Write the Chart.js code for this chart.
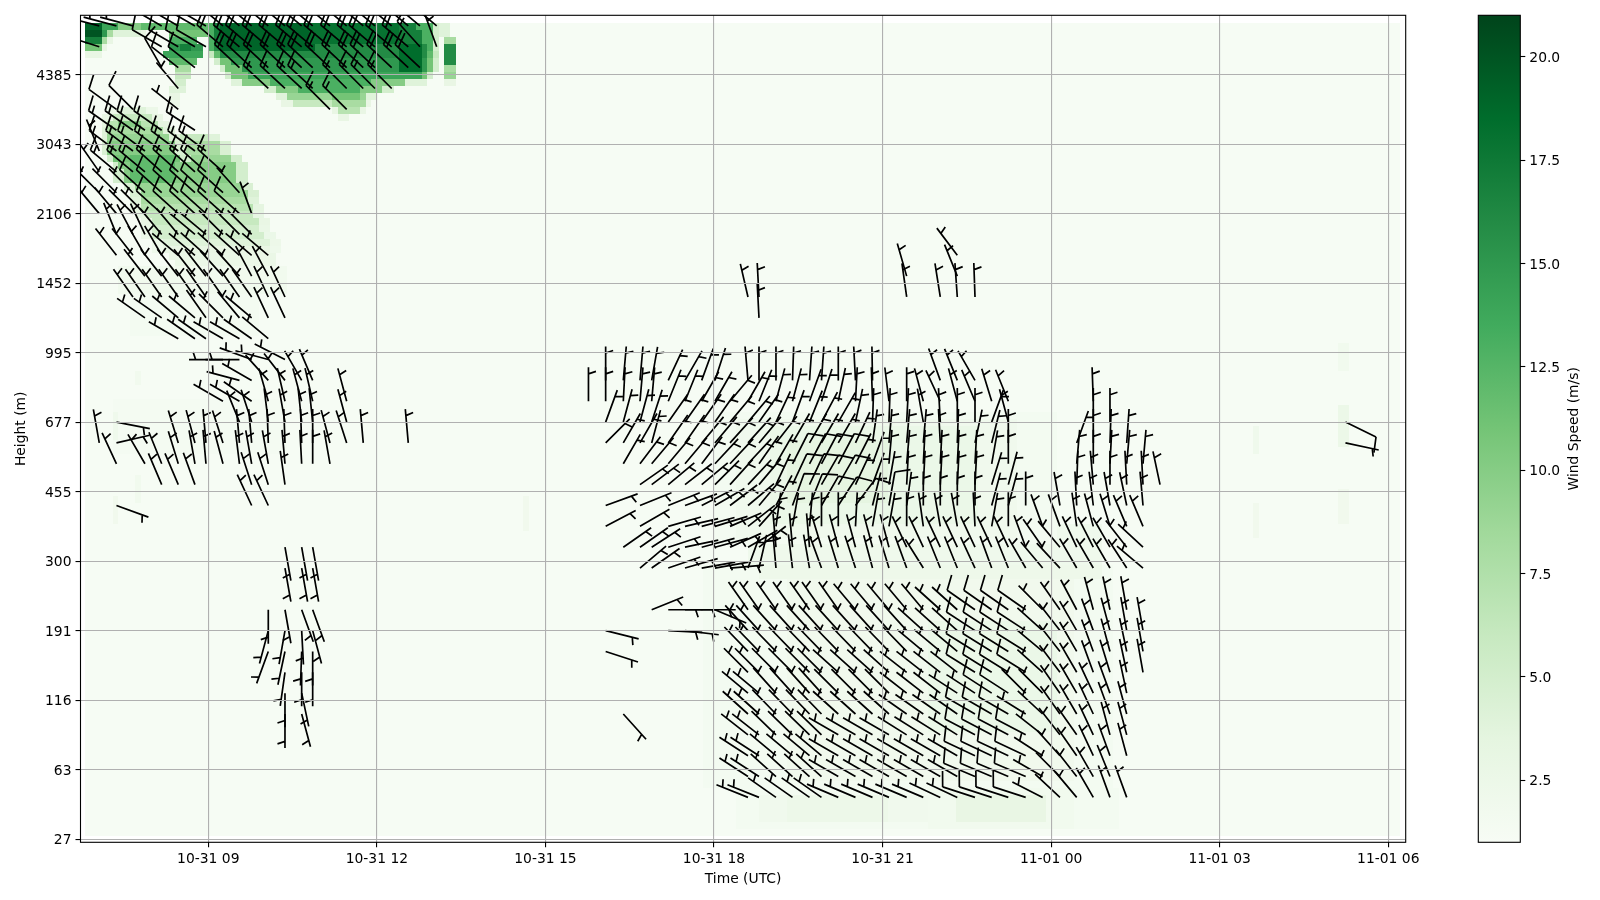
<!DOCTYPE html>
<html>
<head>
<meta charset="utf-8">
<title>Wind profile</title>
<script src="https://cdn.jsdelivr.net/npm/chart.js@4/dist/chart.umd.js"></script>
<style>
  body { margin: 0; background: #fff; }
  #main { position: absolute; left: 0; top: 0; }
  #bar { position: absolute; left: 1400px; top: 0; }
</style>
</head>
<body>
<canvas id="main" width="1600" height="900"></canvas>
<canvas id="bar" width="200" height="900"></canvas>
<script>
// tick labels
let timeTicks = [9, 12, 15, 18, 21, 24, 27, 30];
let timeLabels = ["10-31 09", "10-31 12", "10-31 15", "10-31 18", "10-31 21", "11-01 00", "11-01 03", "11-01 06"];
let heightLabels = [27, 63, 116, 191, 300, 455, 677, 995, 1452, 2106, 3043, 4385];
let speedTicks = [2.5, 5, 7.5, 10, 12.5, 15, 17.5, 20];
let greens = ["#f7fcf5", "#e5f5e0", "#c7e9c0", "#a1d99b", "#74c476", "#41ab5d", "#238b45", "#006d2c", "#00441b"];

// hours since 10-31 00 of the columns that carry barbs
let barbTimes = [6.761, 7.06, 7.366, 7.66, 7.873, 8.171, 8.466, 8.763, 8.959, 9.262, 9.555, 9.772, 10.068, 10.365, 10.662, 10.858,
  11.166, 11.463, 11.758, 11.967, 12.264, 12.559, 12.767, 13.065, 15.766, 16.072, 16.386, 16.683, 16.891, 17.186, 17.484, 17.781,
  18.017, 18.285, 18.605, 18.801, 19.103, 19.397, 19.7, 19.913, 20.212, 20.518, 20.821, 21.114, 21.429, 21.725, 22.027, 22.33,
  22.645, 22.942, 23.238, 23.547, 23.849, 24.157, 24.455, 24.75, 25.047, 25.345, 25.635, 25.938, 29.238];

// barbs: level, first column, last column, direction (deg), speed (m/s)
let barbRuns = [
  [6,34,35,292,5],[6,36,39,305,5],[6,40,45,293,5],[6,46,47,295,5],[6,48,51,288,10],[6,52,52,297,5],[6,53,53,313,5],[6,54,54,320,5],[6,55,55,330,5],[6,56,57,340,5],
  [9,34,35,303,5],[9,36,39,312,5],[9,40,47,300,5],[9,48,51,293,10],[9,52,52,300,5],[9,53,53,315,5],[9,54,54,322,5],[9,55,55,330,5],[9,56,56,338,5],
  [12,34,35,303,5],[12,36,39,310,5],[12,40,47,300,5],[12,48,51,295,10],[12,52,52,303,5],[12,53,53,318,5],[12,54,54,325,5],[12,55,55,335,5],[12,56,56,340,5],[12,57,57,345,5],
  [15,34,35,308,5],[15,36,39,314,5],[15,40,43,300,5],[15,44,47,302,5],[15,48,51,298,10],[15,52,52,308,5],[15,53,53,322,5],[15,54,54,325,5],[15,55,55,335,5],[15,56,57,345,5],
  [18,34,35,312,5],[18,36,39,316,5],[18,40,43,312,5],[18,44,47,305,5],[18,48,50,300,10],[18,51,51,302,5],[18,52,52,313,5],[18,53,53,325,5],[18,54,54,330,5],[18,55,55,335,5],[18,56,56,340,5],[18,57,57,345,5],
  [21,34,35,310,5],[21,36,39,318,5],[21,40,43,315,5],[21,44,46,308,5],[21,47,48,303,5],[21,49,50,303,10],[21,51,52,315,5],[21,53,53,325,5],[21,54,54,330,5],[21,55,55,335,5],[21,56,56,340,5],[21,57,57,348,5],
  [24,34,39,315,5],[24,40,43,312,5],[24,44,47,308,5],[24,48,51,302,10],[24,52,52,312,5],[24,53,53,323,5],[24,54,54,330,5],[24,55,55,340,5],[24,56,56,343,5],[24,57,57,348,5],[24,58,58,350,5],
  [27,34,39,316,5],[27,40,44,316,5],[27,45,47,310,5],[27,48,51,302,10],[27,52,52,310,5],[27,53,53,322,5],[27,54,54,330,5],[27,55,55,340,5],[27,56,56,345,5],[27,57,57,348,5],[27,58,58,350,5],[27,25,25,108,5],
  [30,34,39,318,5],[30,40,44,318,5],[30,45,47,312,5],[30,48,51,303,10],[30,52,52,312,5],[30,53,53,322,5],[30,54,54,330,5],[30,55,55,340,5],[30,56,56,345,5],[30,57,58,350,5],[30,25,25,104,5],[30,29,29,93,5],[30,30,30,97,5],
  [33,34,40,325,5],[33,41,45,320,5],[33,46,47,312,5],[33,48,51,305,10],[33,52,52,315,5],[33,53,53,325,5],[33,54,54,332,5],[33,55,55,345,5],[33,56,56,348,5],[33,57,57,350,5],[33,28,28,68,5],[33,29,31,90,5],[33,32,32,113,5],
  [18,26,26,138,5],
  [39,27,27,50,5],[39,28,28,55,5],[39,29,29,71,5],[39,30,30,74,5],[39,31,32,80,5],[39,33,33,85,5],[39,34,34,20,5],[39,35,35,13,5],[39,36,36,355,5],[39,37,37,353,5],[39,38,38,350,5],[39,39,39,340,5],[39,40,40,343,5],[39,41,41,342,5],[39,42,42,345,5],[39,43,43,343,5],[39,44,44,340,5],[39,45,45,328,5],[39,46,47,338,5],[39,48,48,335,5],[39,49,49,340,5],[39,50,50,338,5],[39,51,51,330,5],[39,52,52,320,5],[39,53,53,317,5],[39,54,56,330,5],[39,57,57,327,5],[39,58,58,310,5],
  [42,26,26,55,5],[42,27,27,55,5],[42,28,28,57,5],[42,29,29,72,5],[42,30,30,78,5],[42,31,32,75,5],[42,33,33,66,5],[42,34,34,60,5],[42,35,35,52,5],[42,36,37,355,5],[42,38,38,355,5],[42,39,39,343,5],[42,40,43,345,5],[42,44,50,335,5],[42,51,51,340,5],[42,52,52,325,5],[42,53,53,320,5],[42,54,54,335,5],[42,55,55,333,5],[42,56,56,330,5],[42,57,57,322,5],[42,58,58,313,5],
  [45,25,25,62,5],[45,27,27,60,5],[45,29,29,74,5],[45,30,30,77,5],[45,31,31,75,5],[45,32,32,73,5],[45,33,33,67,5],[45,34,34,52,5],[45,35,35,42,5],[45,36,36,8,5],[45,37,37,10,5],[45,38,38,5,5],[45,39,40,0,5],[45,41,41,3,5],[45,42,43,10,5],[45,44,44,0,5],[45,45,45,352,5],[45,46,47,350,5],[45,48,48,357,5],[45,49,49,10,5],[45,50,50,0,5],[45,52,53,340,5],[45,54,54,352,5],[45,55,55,345,5],[45,56,56,343,5],[45,57,58,337,5],
  [48,25,25,70,5],[48,27,27,68,5],[48,29,29,68,5],[48,30,30,70,5],[48,31,31,63,5],[48,32,32,60,5],[48,33,33,53,5],[48,34,34,50,5],[48,35,35,40,5],[48,36,36,28,5],[48,37,37,20,10],[48,38,38,22,10],[48,39,39,30,10],[48,40,40,33,10],[48,41,41,37,10],[48,42,42,14,5],[48,43,43,10,10],[48,44,44,8,5],[48,45,48,0,5],[48,49,50,15,5],[48,51,51,0,5],[48,53,53,350,5],[48,54,54,357,5],[48,55,55,353,5],[48,56,56,350,5],[48,57,57,348,5],[48,58,58,355,5],
  [51,27,27,55,5],[51,28,28,53,5],[51,29,29,50,5],[51,30,30,52,5],[51,31,31,50,5],[51,32,32,45,5],[51,33,33,42,5],[51,34,34,43,5],[51,35,35,40,5],[51,36,36,25,5],[51,37,38,25,10],[51,39,40,30,10],[51,41,41,25,5],[51,42,42,20,5],[51,43,43,10,5],[51,44,46,3,5],[51,47,48,3,5],[51,49,49,17,5],[51,50,50,15,5],[51,54,54,2,5],[51,55,55,355,5],[51,56,56,0,5],[51,57,58,357,5],[51,59,59,348,5],
  [54,26,26,30,5],[54,27,27,37,5],[54,28,29,40,5],[54,30,30,40,5],[54,31,31,37,5],[54,32,34,43,5],[54,35,35,35,5],[54,36,36,30,5],[54,37,37,27,10],[54,38,40,28,10],[54,41,41,27,5],[54,42,42,20,5],[54,43,44,5,5],[54,45,47,3,5],[54,48,48,3,5],[54,49,49,10,5],[54,50,50,0,5],[54,54,54,5,5],[54,55,55,0,5],[54,56,56,3,5],[54,57,58,5,5],
  [57,25,25,45,5],[57,26,26,30,5],[57,27,27,30,5],[57,28,28,15,5],[57,29,30,35,5],[57,31,31,40,5],[57,32,32,40,5],[57,33,34,42,5],[57,35,35,40,5],[57,36,36,38,5],[57,37,40,30,5],[57,41,41,25,5],[57,42,42,8,5],[57,43,45,5,5],[57,46,46,357,5],[57,47,47,2,5],[57,48,48,12,5],[57,49,49,14,5],[57,50,50,0,5],[57,54,54,20,5],[57,55,55,0,5],[57,56,56,2,5],[57,57,57,4,5],
  [60,25,25,20,5],[60,26,27,15,5],[60,28,28,18,5],[60,29,31,35,5],[60,32,32,35,5],[60,33,34,40,5],[60,35,35,35,5],[60,36,36,25,5],[60,37,37,20,5],[60,38,38,22,5],[60,39,39,28,5],[60,40,40,30,5],[60,41,41,12,5],[60,42,43,2,5],[60,44,44,3,5],[60,45,45,350,5],[60,46,46,357,5],[60,47,48,0,5],[60,49,49,20,5],[60,50,50,345,5],[60,55,56,0,5],
  [63,24,24,0,5],[63,25,25,0,5],[63,26,26,3,5],[63,27,28,5,5],[63,29,30,22,5],[63,31,32,30,5],[63,33,33,40,5],[63,34,34,30,5],[63,35,35,22,5],[63,36,37,15,5],[63,38,38,20,5],[63,39,39,18,5],[63,40,40,12,5],[63,41,41,3,5],[63,42,42,358,5],[63,43,43,353,5],[63,44,44,0,5],[63,45,45,345,5],[63,46,46,335,5],[63,47,47,345,5],[63,48,48,337,5],[63,49,49,343,5],[63,50,50,338,5],[63,55,55,358,5],
  [66,25,25,0,5],[66,26,27,5,5],[66,28,28,10,5],[66,29,29,25,5],[66,30,30,30,5],[66,31,31,20,5],[66,32,32,18,5],[66,34,34,355,5],[66,35,36,0,5],[66,37,37,2,5],[66,38,39,4,5],[66,40,40,0,5],[66,41,41,357,5],[66,42,42,359,5],[66,46,46,340,5],[66,47,47,338,5],[66,48,48,330,5],
  [18,13,13,180,5],[18,14,14,165,5],[21,13,13,180,5],[21,14,14,168,5],[24,13,13,188,5],[24,14,15,180,5],[27,12,12,200,5],[27,13,13,192,5],[27,14,14,182,5],[27,15,15,180,5],
  [30,12,12,195,5],[30,13,13,190,5],[30,14,14,177,5],[30,15,15,165,5],[33,12,12,180,5],[33,13,13,170,5],[33,14,15,160,5],[39,13,15,170,5],[42,13,15,170,5],
  [48,2,2,110,5],[48,11,12,335,5],
  [51,5,6,337,5],[51,7,7,340,5],[51,11,12,342,5],[51,13,13,352,5],
  [54,2,2,335,5],[54,4,4,330,5],[54,5,5,338,5],[54,6,6,343,5],[54,7,7,350,5],[54,8,8,355,5],[54,9,9,345,5],[54,10,10,353,5],[54,11,12,350,5],[54,13,13,355,5],[54,14,14,357,5],[54,15,15,0,5],[54,16,16,350,5],
  [57,1,1,350,5],[57,2,2,77,5],[57,6,6,343,5],[57,7,7,345,5],[57,8,8,355,5],[57,9,9,342,5],[57,10,11,355,5],[57,12,14,358,5],[57,15,15,0,5],[57,16,16,345,5],[57,17,17,342,5],[57,18,18,355,5],[57,21,21,355,5],
  [60,2,2,101,5],[60,10,10,338,5],[60,11,11,342,5],[60,12,12,353,5],[60,13,13,350,5],[60,14,15,354,5],[60,17,17,345,5],
  [63,9,10,300,5],[63,11,11,305,5],[63,12,12,344,5],[63,13,13,347,5],[63,14,14,345,5],[63,15,15,347,5],[63,17,17,345,5],
  [66,10,10,285,5],[66,11,11,300,5],[66,12,12,318,5],[66,13,13,322,5],[66,14,14,330,5],[66,15,15,337,5],
  [69,9,10,270,5],[69,11,11,290,5],[69,12,12,285,5],[69,13,13,297,5],
  [72,6,6,300,5],[72,7,8,305,5],[72,9,10,300,5],[72,11,11,305,5],[72,12,12,310,5],
  [75,4,5,305,5],[75,6,7,310,5],[75,8,8,325,5],[75,9,9,315,5],[75,10,10,320,5],[75,11,11,310,5],[75,12,13,335,5],[75,35,35,357,5],
  [78,3,11,325,5],[78,12,13,335,5],[78,34,34,347,5],[78,35,35,357,5],[78,44,44,352,5],[78,46,46,351,5],[78,47,47,356,5],[78,48,48,358,5],
  [81,4,8,322,5],[81,9,10,318,5],[81,11,12,332,5],[81,44,44,344,5],[81,47,47,338,5],[84,47,47,323,5],
  [84,2,3,322,5],[84,4,5,330,5],[84,6,7,310,5],[84,8,10,312,5],[84,11,12,310,5],
  [87,2,2,338,5],[87,3,3,332,5],[87,4,4,335,5],[87,5,6,320,5],[87,7,8,310,5],[87,9,11,315,5],
  [90,1,2,320,5],[90,3,4,315,5],[90,5,10,312,10],[90,11,11,340,5],
  [93,0,3,315,5],[93,4,9,312,10],[93,10,10,318,5],
  [96,0,1,325,5],[96,2,4,310,15],[96,5,9,312,15],
  [99,1,1,338,5],[99,2,8,307,15],
  [102,2,5,305,15],[102,7,7,303,15],
  [105,2,2,306,10],[105,3,3,315,10],[105,6,6,308,5],[105,16,17,315,15],
  [108,6,6,320,5],[108,12,15,313,15],[108,17,20,315,15],
  [111,5,5,330,10],[111,6,7,308,10],[111,10,22,313,20],
  [114,1,1,288,15],[114,5,8,300,10],[114,9,21,310,20],[114,22,22,318,15],[114,23,23,340,5],
  [117,1,1,285,10],[117,2,3,285,5],[117,5,8,300,15],[117,9,23,310,20],
  [60,60,60,116,10],[57,60,60,102,5]
];

// speed field painted as blocks: first row, last row, first col, last col, m/s
let heatStartHour = 6.8;
let heatStepHours = 0.1;
let heatSpans = [
  [0,116,0,233,1.15],
  [55,62,5,35,1.35],[72,77,8,30,1.5],[78,81,6,35,1.8],
  [1,6,116,183,1.5],[2,5,120,150,2.0],[2,5,125,142,2.4],[1,6,150,175,1.8],[2,5,155,170,3.0],
  [7,38,110,182,1.5],[8,37,125,175,1.9],[15,30,150,172,2.6],[37,38,120,180,2.3],
  [39,44,118,180,2.1],[42,60,112,172,1.5],[43,59,116,165,2],[45,58,122,158,2.6],[48,56,125,142,3.4],
  [67,70,223,224,1.8],[56,61,223,224,2.5],[45,49,223,224,1.9],[55,58,208,208,2.1],[43,47,208,208,1.9],[44,48,78,78,1.9],[65,66,9,9,1.8],[48,51,9,9,1.8],[57,60,5,5,2.1],[45,48,5,5,1.9],
  [104,104,4,12,2.5],[103,103,3,13,3],[102,102,3,14,3.5],[101,101,3,15,4],[100,100,3,23,4],[98,99,3,25,4.5],[97,97,4,27,5],[94,96,5,28,5],[93,93,7,29,4.5],[92,92,8,30,4.5],[91,91,8,30,4],[90,90,8,31,3.5],[89,89,9,31,3.2],[88,88,10,32,3],[87,87,10,32,2.8],[86,86,10,33,2.6],[85,85,12,34,2.4],[84,84,12,34,2.2],
  [104,104,6,10,4],[103,103,5,11,6],[102,102,4,12,7],[102,102,6,9,10],[101,101,4,13,8],[100,100,4,14,9],[100,100,17,21,6],[98,99,4,15,10],[98,99,18,23,8],
  [97,97,5,16,11],[97,97,19,25,9],[96,96,6,26,10],[94,95,7,26,10],[94,97,8,15,12],[93,93,9,27,9],[92,92,10,28,9],[91,91,10,28,8],[90,90,10,29,7],[89,89,11,29,6],[88,88,12,30,6],
  [87,87,12,30,5],[86,86,12,31,5],[85,85,14,32,4],[84,84,14,32,3],[83,83,15,33,2.8],[82,82,16,33,2.5],
  [116,116,22,63,5],[116,116,22,61,13],[116,116,23,58,17],
  [114,115,22,62,5],[114,115,22,61,13],[114,115,23,59,17],
  [113,113,22,62,5],[113,113,22,61,13],[113,113,23,60,16],
  [112,112,22,62,6],[112,112,23,61,12],[112,112,24,60,16],
  [111,111,23,62,5],[111,111,24,61,11],[111,111,26,60,15],
  [110,110,24,62,5],[110,110,25,61,11],[110,110,28,60,15],
  [109,109,25,61,5],[109,109,26,60,11],[109,109,29,59,14],
  [108,108,26,60,4],[108,108,28,56,10],[108,108,33,50,13],
  [107,107,32,54,5],[107,107,34,52,10],[107,107,38,48,13],
  [106,106,34,51,4],[106,106,36,49,9],[106,106,44,48,11],
  [105,105,35,50,3],[105,105,37,49,6],[105,105,44,49,8],
  [104,104,44,49,3],[104,104,45,48,7],[103,103,45,46,3],
  [113,116,24,40,19],[114,116,40,55,18],[110,113,56,59,18.5],
  [115,116,63,64,4],[114,114,64,65,8],[111,113,64,65,16],[110,110,64,65,8],[109,109,64,65,9],[108,108,64,65,3],
  [116,116,0,2,19],[116,116,3,5,14],[116,116,6,9,10],[116,116,10,21,12],
  [115,115,0,2,20],[115,115,3,3,15],[115,115,4,4,8],[115,115,5,9,4],[115,115,10,10,3],
  [114,114,0,2,17],[114,114,3,3,8],[114,114,4,4,3],[113,113,0,2,11],[113,113,3,3,3],[112,112,0,2,3],
  [115,115,15,21,11],[114,114,15,19,13],[113,113,15,20,15],[113,113,17,18,17],[112,112,14,20,14],[111,111,15,19,12],[110,110,16,18,8],[109,109,16,18,6],[108,108,16,17,5],[107,107,15,17,4],[106,106,15,16,3],[105,105,15,16,2.5]
];

let font = { family: "'DejaVu Sans'", size: 13.89 };
let shaft = 34;
let featherHeight = 15;
let featherLean = 5;
let featherGap = 4.4;

let hexToRgb = (hex) => [1, 3, 5].map((i) => parseInt(hex.slice(i, i + 2), 16));
let speedColor = (v) => {
  let t = Math.min(0.9999, Math.max(0, (v - 1) / 20)) * (greens.length - 1);
  let i = Math.floor(t);
  let a = hexToRgb(greens[i]);
  let b = hexToRgb(greens[i + 1]);
  let c = a.map((n, k) => Math.round(n + (b[k] - n) * (t - i)));
  return `rgb(${c[0]},${c[1]},${c[2]})`;
};

let heatCells = heatSpans.map((s) => ({
  x: heatStartHour + s[2] * heatStepHours,
  x2: heatStartHour + (s[3] + 1) * heatStepHours,
  y: s[0] + 0.39,
  y2: s[1] + 1.39,
  v: s[4],
}));
let barbPoints = [];
barbRuns.forEach((r) => {
  for (let c = r[1]; c <= r[2]; c++) {
    barbPoints.push({ x: barbTimes[c], y: r[0], dir: r[3], speed: r[4] });
  }
});

let drawBarb = (ctx, px, py, dir, speed) => {
  let b = (dir * Math.PI) / 180;
  let dx = Math.sin(b);
  let dy = -Math.cos(b);
  let nx = -dy;
  let ny = dx;
  let units = Math.round(speed / 5);
  let full = Math.floor(units / 2);
  let half = units % 2;
  let off = shaft;
  ctx.beginPath();
  ctx.moveTo(px, py);
  ctx.lineTo(px + dx * off, py + dy * off);
  for (let i = 0; i < full; i++) {
    let ax = px + dx * off;
    let ay = py + dy * off;
    ctx.moveTo(ax, ay);
    ctx.lineTo(ax + nx * featherHeight + dx * featherLean, ay + ny * featherHeight + dy * featherLean);
    off -= featherGap;
  }
  if (half) {
    if (full == 0) off -= featherGap * 1.5;
    let ax = px + dx * off;
    let ay = py + dy * off;
    ctx.moveTo(ax, ay);
    ctx.lineTo(ax + (nx * featherHeight + dx * featherLean) / 2, ay + (ny * featherHeight + dy * featherLean) / 2);
  }
  ctx.stroke();
};

let fieldPlugin = {
  id: "field",
  beforeDatasetsDraw(chart) {
    let { ctx, chartArea: area, scales } = chart;
    ctx.save();
    ctx.beginPath();
    ctx.rect(area.left, area.top, area.width, area.height);
    ctx.clip();
    chart.data.datasets[0].data.forEach((c) => {
      let x1 = Math.round(scales.x.getPixelForValue(c.x));
      let x2 = Math.round(scales.x.getPixelForValue(c.x2));
      let y1 = Math.round(scales.y.getPixelForValue(c.y2));
      let y2 = Math.round(scales.y.getPixelForValue(c.y));
      ctx.fillStyle = speedColor(c.v);
      ctx.fillRect(x1, y1, x2 - x1, y2 - y1);
    });
    ctx.strokeStyle = "#000";
    ctx.lineWidth = 1.7;
    chart.data.datasets[1].data.forEach((p) => {
      drawBarb(ctx, scales.x.getPixelForValue(p.x), scales.y.getPixelForValue(p.y), p.dir, p.speed);
    });
    ctx.restore();
  },
  afterDraw(chart) {
    let { ctx, chartArea: area } = chart;
    ctx.save();
    ctx.strokeStyle = "#000";
    ctx.lineWidth = 1.1;
    ctx.strokeRect(area.left, area.top, area.width, area.height);
    ctx.restore();
  },
};

new Chart(document.getElementById("main"), {
  type: "scatter",
  data: {
    datasets: [
      { label: "Wind Speed", data: heatCells, pointRadius: 0 },
      { label: "Wind Barbs", data: barbPoints, pointRadius: 0 },
    ],
  },
  plugins: [fieldPlugin],
  options: {
    responsive: false,
    animation: false,
    devicePixelRatio: 1,
    layout: { padding: { top: 15.3, right: 194.3, left: 0, bottom: 0 } },
    plugins: { legend: { display: false }, tooltip: { enabled: false } },
    scales: {
      x: {
        type: "linear",
        min: 6.726,
        max: 30.31,
        afterBuildTicks(s) { s.ticks = timeTicks.map((v) => ({ value: v })); },
        afterFit(s) { s.height = 57.7; },
        ticks: {
          color: "#000",
          font,
          padding: 4,
          maxRotation: 0,
          autoSkip: false,
          callback: (v) => timeLabels[timeTicks.indexOf(v)],
        },
        grid: { z: 1, color: "#b0b0b0", lineWidth: 1.1, tickColor: "#000", tickLength: 5, tickWidth: 1.1 },
        border: { display: false },
        title: { display: true, text: "Time (UTC)", color: "#000", font, padding: { top: 4, bottom: 12.5 } },
      },
      y: {
        type: "linear",
        min: -0.46,
        max: 118.53,
        afterBuildTicks(s) { s.ticks = heightLabels.map((_, i) => ({ value: i * 10 })); },
        afterFit(s) { s.width = 80.5; },
        ticks: {
          color: "#000",
          font,
          padding: 4,
          labelOffset: 1.5,
          autoSkip: false,
          callback: (v) => heightLabels[v / 10],
        },
        grid: { z: 1, color: "#b0b0b0", lineWidth: 1.1, tickColor: "#000", tickLength: 5, tickWidth: 1.1 },
        border: { display: false },
        title: { display: true, text: "Height (m)", color: "#000", font, padding: { top: 13.5, bottom: 4 } },
      },
    },
  },
});

let barLabelPlugin = {
  id: "barLabel",
  afterDraw(chart) {
    let { ctx, chartArea: area } = chart;
    ctx.save();
    ctx.strokeStyle = "#000";
    ctx.lineWidth = 1.1;
    ctx.strokeRect(area.left, area.top, area.width, area.height);
    ctx.translate(area.right + 54, (area.top + area.bottom) / 2);
    ctx.rotate(-Math.PI / 2);
    ctx.fillStyle = "#000";
    ctx.font = `${font.size}px ${font.family}`;
    ctx.textAlign = "center";
    ctx.textBaseline = "middle";
    ctx.fillText("Wind Speed (m/s)", 0, 0);
    ctx.restore();
  },
};

new Chart(document.getElementById("bar"), {
  type: "bar",
  data: {
    labels: ["Wind Speed"],
    datasets: [
      {
        data: [[1, 21]],
        barPercentage: 1,
        categoryPercentage: 1,
        backgroundColor: (c) => {
          let area = c.chart.chartArea;
          if (!area) return greens[0];
          let g = c.chart.ctx.createLinearGradient(0, area.bottom, 0, area.top);
          greens.forEach((col, i) => g.addColorStop(i / (greens.length - 1), col));
          return g;
        },
      },
    ],
  },
  plugins: [barLabelPlugin],
  options: {
    responsive: false,
    animation: false,
    devicePixelRatio: 1,
    layout: { padding: { left: 78.3, top: 15.3, bottom: 57.7, right: 0 } },
    plugins: { legend: { display: false }, tooltip: { enabled: false } },
    scales: {
      x: { display: false },
      y: {
        position: "right",
        min: 1,
        max: 21,
        afterBuildTicks(s) { s.ticks = speedTicks.map((v) => ({ value: v })); },
        afterFit(s) { s.width = 79.7; },
        ticks: { color: "#000", font, padding: 4, labelOffset: 1.5, callback: (v) => v.toFixed(1) },
        grid: { drawOnChartArea: false, tickColor: "#000", tickLength: 5, tickWidth: 1.1 },
        border: { display: false },
      },
    },
  },
});
</script>
</body>
</html>
